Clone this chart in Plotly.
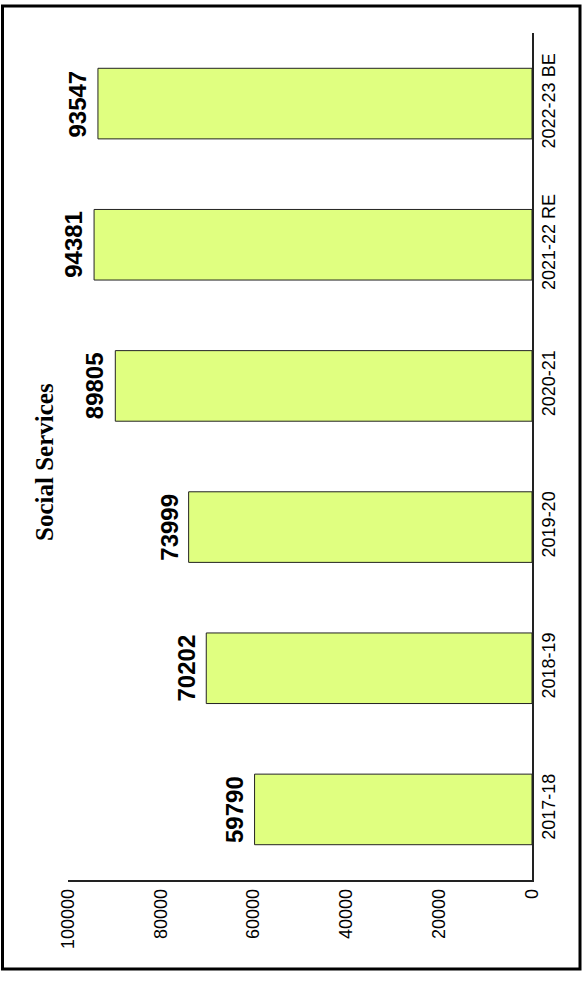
import plotly.graph_objects as go

# --- DATA ---
years = ["2017-18", "2018-19", "2019-20", "2020-21", "2021-22 RE", "2022-23 BE"]
spend = [59790, 70202, 73999, 89805, 94381, 93547]
value_ticks = [0, 20000, 40000, 60000, 80000, 100000]

W, H = 582, 982
L, R, T, B = 68, 50, 33, 102
pw, ph = W - L - R, H - T - B


def px_x(p):
    return (p - L) / pw


def px_y(p):
    return (H - B - p) / ph


fig = go.Figure()

fig.add_trace(go.Bar(
    x=spend,
    y=years,
    orientation="h",
    width=0.5,
    marker=dict(color="#E0FF80", line=dict(color="#222222", width=1)),
    hoverinfo="x+y",
))

# rotated value labels at the end of each bar
for yr, v in zip(years, spend):
    fig.add_annotation(
        x=v, y=yr, xref="x", yref="y",
        text=f"<b>{v}</b>",
        textangle=-90,
        showarrow=False,
        xanchor="center", yanchor="middle",
        xshift=-20,
        font=dict(family="Liberation Sans, Arial", size=24, color="#000000"),
    )

# rotated chart title
fig.add_annotation(
    x=px_x(44), y=px_y(462), xref="paper", yref="paper",
    text="<b>Social Services</b>",
    textangle=-90,
    showarrow=False,
    xanchor="center", yanchor="middle",
    font=dict(family="Liberation Serif, Times New Roman", size=25, color="#000000"),
)

# outer frame
fig.add_shape(
    type="rect", xref="paper", yref="paper",
    x0=px_x(2.5), x1=px_x(580), y0=px_y(969), y1=px_y(6),
    line=dict(color="#000000", width=3),
    fillcolor="rgba(0,0,0,0)",
)

fig.update_layout(
    width=W, height=H,
    margin=dict(l=L, r=R, t=T, b=B),
    paper_bgcolor="#FFFFFF",
    plot_bgcolor="#FFFFFF",
    showlegend=False,
    font=dict(family="Liberation Sans, Arial", size=18, color="#000000"),
    xaxis=dict(
        range=[100000, 0],
        tickvals=value_ticks,
        ticktext=[str(t) for t in value_ticks],
        tickangle=-90,
        showgrid=False,
        zeroline=False,
        showline=True,
        linecolor="#222222",
        linewidth=1.5,
        ticks="",
        tickfont=dict(size=18),
    ),
    yaxis=dict(
        range=[-0.5, 5.5],
        side="right",
        tickangle=-90,
        showgrid=False,
        zeroline=False,
        showline=True,
        linecolor="#222222",
        linewidth=1.5,
        ticks="",
        tickfont=dict(size=18),
    ),
)

fig.write_html(
    "out.html",
    config={"displayModeBar": False},
    post_script="document.body.style.margin='0px';",
)
